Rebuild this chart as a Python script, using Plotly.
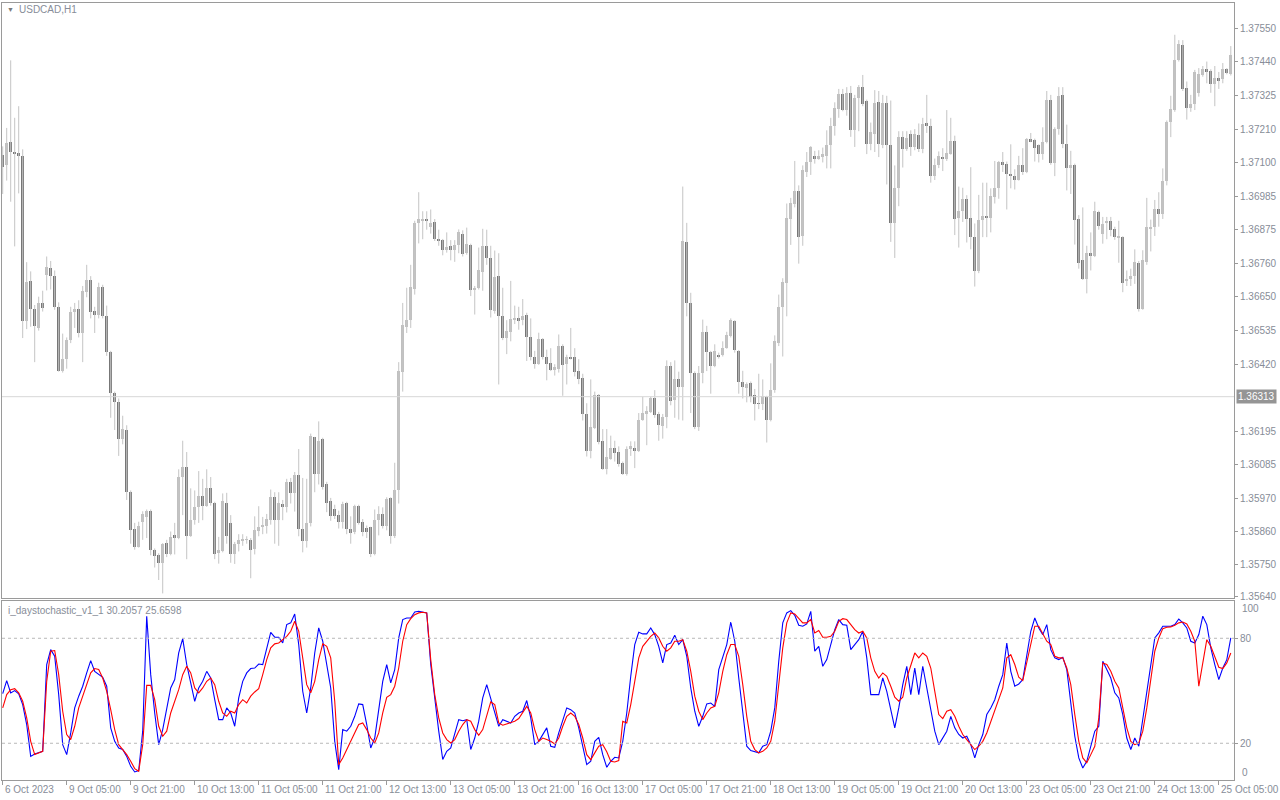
import numpy as np
import plotly.graph_objects as go

# ---------------- data (USDCAD H1), prices in points (price x 100000) ----------------
open_pts = [
137125,137090,137170,137134,137132,137122,136566,136702,136608,136544,136629,136723,136746,136720,136615,136400,136439,136502,136598,136608,
136527,136666,136705,136602,136587,136683,136585,136463,136326,136294,136172,136201,135992,135870,135808,135893,135909,135928,135797,135780,
135755,135821,135783,135847,135838,136043,136078,135844,135900,135941,135979,135947,136005,135956,135789,135793,135957,135887,135784,135819,
135830,135832,135832,135800,135861,135874,135879,135898,135977,135898,135954,135941,136028,135990,136049,135870,135828,135887,136176,136052,
136172,136018,135963,135934,135915,135892,135957,135870,135857,135947,135892,135873,135874,135784,135898,135919,135877,135973,135844,136001,
136397,136548,136570,136676,136895,136906,136907,136884,136900,136843,136838,136807,136820,136805,136823,136861,136795,136824,136673,136679,
136733,136820,136779,136602,136718,136585,136510,136531,136569,136576,136570,136589,136512,136448,136422,136506,136448,136425,136402,136407,
136484,136422,136448,136445,136399,136377,136255,136129,136207,136319,136163,136069,136105,136142,136127,136091,136052,136140,136142,136131,
136234,136255,136262,136307,136255,136214,136245,136416,136303,136371,136345,136833,136628,136394,136210,136394,136531,136463,136416,136454,
136452,136476,136516,136566,136467,136364,136341,136358,136320,136290,136287,136313,136233,136335,136495,136615,136696,136910,136962,137004,
136852,137068,137100,137122,137113,137119,137122,137157,137221,137280,137330,137276,137334,137209,137315,137353,137306,137161,137196,137303,
137157,137299,137158,136897,137013,137186,137145,137195,137152,137193,137144,137231,137222,137055,137092,137118,137113,137128,137172,136913,
136936,136978,136914,136850,136734,136906,136920,136914,136985,137013,137103,137096,137062,137054,137042,137090,137067,137180,137176,137157,
137128,137170,137311,137099,137212,137327,137161,137080,137092,136910,136772,136709,136797,136784,136932,136861,136895,136904,136876,136849,
136850,136701,136709,136718,136762,136606,136766,136878,136882,136943,136926,137036,137236,137276,137443,137494,137351,137282,137298,137334,
137394,137413,137407,137362,137385,137379,137413,137398]
high_pts = [
137154,137216,137443,137250,137289,137144,136765,136734,136621,136649,136669,136784,136769,136737,136630,136525,136512,136615,136628,136637,
136685,136756,136718,136615,136696,136689,136619,136467,136330,136307,136249,136217,135998,135889,135893,135928,135934,135934,135803,135787,
135821,135832,135860,135889,136069,136165,136127,136005,135998,136063,136037,136069,136043,135960,135842,135988,135990,135915,135825,135851,
135851,135844,135838,135911,135945,135909,135919,136001,135992,135992,135966,136037,136040,136060,136137,136040,136037,136189,136178,136230,
136175,136027,135973,135950,135930,135960,135960,135911,135950,135950,135902,135880,135876,135934,135945,135941,135975,135975,136091,136429,
136628,136679,136756,136904,137000,136936,136936,136942,136910,136874,136843,136865,136839,136839,136875,136872,136881,136827,136685,136814,
136877,136874,136820,136804,136795,136679,136570,136702,136619,136615,136641,136595,136576,136467,136528,136510,136471,136476,136422,136522,
136489,136454,136544,136476,136439,136390,136291,136371,136330,136322,136204,136204,136182,136165,136146,136095,136146,136163,136163,136258,
136313,136281,136313,136335,136262,136255,136435,136429,136435,136397,137019,136897,136662,136398,136416,136572,136551,136467,136489,136461,
136499,136531,136576,136570,136470,136400,136361,136364,136339,136390,136371,136316,136425,136519,136656,136711,136962,136981,137105,137023,
137090,137135,137155,137139,137141,137150,137208,137250,137302,137347,137347,137353,137357,137327,137360,137394,137311,137234,137343,137340,
137327,137324,137308,137090,137205,137205,137205,137208,137212,137231,137250,137327,137247,137113,137137,137148,137276,137250,137190,137019,
137015,136990,137084,136895,136991,137032,137032,137013,137105,137105,137135,137103,137161,137077,137122,137148,137182,137199,137180,137161,
137218,137340,137327,137218,137353,137353,137227,137139,137096,136923,136949,136820,136865,136968,136938,136917,136917,136917,136884,136904,
136852,136737,136743,136808,136769,136805,136981,136908,136974,137000,137080,137241,137324,137529,137511,137511,137372,137327,137411,137417,
137424,137439,137413,137424,137404,137434,137417,137491]
low_pts = [
136994,137039,136968,136818,136996,136510,136540,136548,136429,136535,136599,136670,136673,136605,136397,136394,136407,136493,136544,136512,
136429,136647,136576,136527,136576,136576,136450,136242,136201,136114,136153,135966,135819,135799,135806,135832,135838,135780,135739,135697,
135652,135774,135780,135783,135834,135915,135767,135842,135883,135889,135898,135943,135947,135767,135752,135790,135819,135755,135751,135793,
135812,135819,135703,135783,135844,135851,135853,135883,135819,135812,135898,135924,135954,135927,135844,135790,135806,135877,135992,136018,
136001,135925,135896,135902,135870,135870,135851,135819,135851,135883,135844,135838,135774,135780,135847,135870,135864,135819,135838,135954,
136330,136527,136544,136656,136828,136842,136874,136861,136836,136820,136788,136797,136771,136766,136795,136784,136790,136651,136589,136673,
136669,136756,136579,136592,136354,136503,136456,136499,136557,136538,136553,136433,136435,136407,136420,136438,136368,136399,136384,136394,
136316,136354,136438,136381,136355,136233,136112,136106,136204,136153,136067,136052,136101,136095,136078,136050,136048,136114,136073,136127,
136232,136150,136258,136242,136165,136172,136207,136284,136242,136236,136233,136583,136258,136204,136198,136358,136399,136323,136412,136441,
136448,136474,136512,136461,136323,136307,136294,136294,136233,136271,136268,136159,136230,136326,136483,136448,136583,136823,136949,136760,
136820,137051,137058,137096,137109,137100,137080,137080,137190,137250,137272,137257,137186,137152,137205,137289,137128,137141,137135,137118,
137148,137026,136833,136779,136953,137083,137139,137122,137141,137135,137131,137199,137032,137041,137081,137071,137105,137126,136856,136814,
136900,136831,136808,136683,136728,136849,136849,136865,136962,136978,137068,136942,137013,137009,137039,137058,137064,137168,137103,137100,
137109,137164,137092,137054,137193,137148,137006,136994,136824,136743,136705,136660,136737,136782,136874,136827,136842,136852,136840,136763,
136664,136685,136685,136692,136599,136605,136756,136801,136853,136884,136910,137023,137185,137270,137439,137340,137244,137270,137276,137321,
137388,137366,137334,137289,137347,137366,137396,137392]
close_pts = [
137086,137164,137134,137130,137123,136566,136698,136606,136549,136629,136610,136750,136720,136615,136399,136439,136502,136598,136608,136527,
136669,136705,136599,136587,136683,136583,136463,136326,136294,136172,136204,135992,135864,135808,135877,135919,135928,135797,135778,135755,
135819,135783,135842,135838,136043,136078,135844,135900,135941,135979,135947,136007,135956,135784,135797,135964,135844,135784,135819,135832,
135833,135833,135797,135864,135874,135883,135902,135977,135898,135957,135941,136028,135990,136049,135870,135828,135887,136181,136052,136165,
136011,135956,135913,135913,135892,135954,135868,135855,135947,135889,135860,135857,135784,135900,135919,135877,135970,135844,136001,136399,
136553,136570,136682,136897,136910,136907,136905,136897,136843,136838,136805,136816,136805,136823,136865,136791,136827,136673,136679,136739,
136820,136778,136605,136714,136583,136510,136535,136574,136579,136566,136585,136515,136445,136422,136506,136445,136422,136402,136412,136484,
136420,136448,136441,136397,136371,136255,136129,136210,136317,136162,136069,136110,136142,136124,136088,136052,136137,136146,136131,136236,
136258,136264,136307,136251,136217,136246,136416,136300,136373,136345,136836,136628,136393,136210,136394,136531,136463,136416,136465,136448,
136476,136519,136570,136471,136362,136345,136354,136313,136287,136289,136316,136233,136336,136499,136615,136698,136913,136964,137003,136850,
137073,137103,137152,137113,137123,137128,137157,137223,137282,137330,137276,137334,137209,137317,137353,137298,137161,137202,137299,137161,
137299,137157,136897,137013,137186,137145,137182,137152,137195,137144,137229,137221,137055,137092,137122,137113,137132,137172,136910,136936,
136978,136910,136849,136734,136908,136919,136914,136987,137013,137103,137090,137062,137054,137042,137090,137067,137180,137170,137150,137128,
137170,137311,137099,137212,137324,137161,137080,137092,136908,136763,136707,136797,136786,136936,136887,136893,136904,136874,136849,136852,
136696,136709,136720,136766,136606,136773,136882,136884,136943,136926,137039,137236,137280,137443,137498,137347,137282,137298,137404,137398,
137413,137404,137363,137385,137375,137413,137401,137462]

# stochastic main (blue) and signal (red) lines
stoch_main = [
48.4,55.8,48.8,50.1,48.2,42.1,30.7,12.5,13.9,14.5,15.4,65.0,73.5,69.7,47.8,19.2,13.5,25.9,40.2,46.9,
52.6,60.2,67.2,61.1,59.2,57.7,52.6,28.8,21.1,17.3,16.4,12.5,6.8,3.6,4.4,26.9,92.6,59.2,37.3,19.2,
27.8,40.2,51.6,56.4,71.6,79.8,65.0,54.5,44.0,51.6,55.4,61.1,57.3,44.9,33.5,33.5,40.2,37.3,29.7,45.9,
55.4,60.2,62.7,63.0,65.3,65.0,73.5,83.4,80.6,80.6,77.3,87.8,88.8,93.9,76.4,49.7,37.3,51.6,71.6,85.9,
78.3,64.0,51.6,21.1,4.9,27.8,26.9,29.7,35.4,42.5,42.1,30.7,17.3,23.0,38.3,55.4,65.0,54.5,62.1,80.2,
90.7,91.6,91.6,95.0,95.4,95.0,94.5,65.0,44.0,26.9,10.7,15.4,17.3,25.0,33.5,32.9,33.5,16.4,23.0,32.6,
45.9,53.5,45.9,37.3,29.7,33.5,32.6,31.6,35.4,37.3,38.3,44.4,34.5,19.2,21.1,25.0,28.8,18.3,17.7,25.9,
33.5,40.2,39.2,37.3,28.8,17.3,7.8,9.7,21.1,23.4,13.5,6.3,9.7,12.0,11.6,21.1,37.3,58.3,76.4,83.4,
82.5,82.5,85.9,82.1,75.4,65.9,76.4,77.3,81.7,76.4,79.2,69.7,51.6,38.3,29.7,35.4,42.5,43.0,41.1,62.1,
68.8,76.4,89.3,78.3,57.3,36.4,18.3,15.8,15.0,14.5,18.3,19.2,26.9,40.2,66.9,88.8,94.5,95.8,93.1,87.4,
86.9,88.2,95.4,72.6,75.4,64.0,67.8,76.4,84.9,90.7,87.8,87.4,73.5,76.4,79.2,84.0,68.8,47.8,47.8,47.8,
57.3,49.7,39.2,28.8,40.2,53.5,64.0,47.8,63.0,47.8,64.0,51.6,40.2,26.9,19.2,23.0,26.9,35.4,28.8,25.0,
23.0,24.0,19.2,11.6,19.2,25.0,36.4,40.2,44.9,52.6,59.2,77.3,61.1,52.6,53.9,56.4,71.6,84.0,91.6,85.9,
82.1,87.8,73.5,68.8,67.8,69.1,62.1,44.0,24.0,11.6,5.9,9.7,19.2,26.9,29.7,66.9,62.1,57.3,48.8,45.9,
36.4,23.0,16.4,23.0,18.3,33.5,47.8,65.0,80.2,83.1,86.9,86.9,86.9,87.8,91.0,88.8,85.9,78.3,77.3,82.1,
92.6,87.8,74.5,65.0,56.4,63.0,67.8,80.2]
stoch_signal = [
40.2,47.8,50.6,51.2,48.8,44.0,34.5,21.1,13.5,14.5,15.4,55.4,72.6,73.0,59.2,38.3,25.0,22.1,29.7,40.2,
46.9,53.5,60.2,62.7,62.1,57.3,49.7,39.2,27.8,19.2,16.4,13.5,9.7,5.5,4.0,19.2,53.1,53.1,44.9,29.7,
24.0,26.9,37.3,44.0,50.6,59.2,64.0,60.2,51.6,48.8,51.6,55.4,57.3,53.5,44.0,37.3,35.4,38.3,37.3,42.1,
44.9,43.0,46.9,49.3,51.2,59.2,67.8,74.5,76.8,77.3,79.2,81.1,84.0,89.7,84.0,67.8,53.5,48.8,55.4,67.8,
76.8,75.4,68.8,44.0,7.8,11.6,16.4,21.1,25.9,30.7,31.6,27.8,23.0,20.2,25.9,37.3,46.3,47.8,52.6,63.0,
78.3,87.8,91.2,93.5,94.5,94.9,94.5,67.8,47.8,34.5,25.9,22.1,20.2,22.1,26.9,30.7,33.5,32.6,27.8,24.5,
27.8,36.4,43.6,42.1,31.6,30.3,31.0,32.0,32.6,34.1,37.3,41.1,37.3,27.8,21.1,23.0,22.1,21.1,19.6,23.0,
29.7,35.4,37.3,35.4,30.7,23.0,13.5,10.6,14.5,18.3,19.2,15.1,9.7,9.3,10.1,32.6,31.6,42.1,55.4,68.8,
75.4,78.3,81.1,83.0,80.2,75.4,72.6,74.5,78.3,78.3,79.2,72.6,61.1,46.9,38.3,33.5,37.3,40.2,41.1,48.8,
61.1,70.6,76.4,76.4,69.7,53.5,35.4,21.1,16.4,14.5,15.4,17.3,21.1,32.6,53.5,74.5,88.8,94.5,93.9,91.6,
88.8,88.8,90.7,83.0,84.4,80.6,80.6,81.1,84.0,89.7,91.2,90.7,87.8,84.9,83.0,84.0,80.2,68.8,61.1,57.3,
60.2,58.3,52.6,46.3,44.0,46.3,57.3,65.0,71.6,68.8,71.6,69.7,63.0,49.7,36.4,34.1,38.3,39.2,35.4,29.7,
25.0,22.1,19.2,16.4,18.3,21.1,25.9,32.6,39.2,45.9,51.6,68.8,70.6,65.0,57.7,55.8,65.9,76.4,86.9,86.9,
83.0,78.3,76.4,69.7,68.8,68.8,63.0,53.5,36.4,21.1,11.6,8.8,13.5,18.3,34.5,65.9,65.0,61.1,55.4,51.6,
40.2,28.8,21.1,19.2,20.2,26.9,40.2,55.4,72.6,80.2,85.5,86.3,86.5,87.4,88.8,89.3,88.2,84.0,78.3,52.6,
66.9,79.2,75.4,68.8,63.4,62.7,65.9,71.6]

time_labels = ["6 Oct 2023", "9 Oct 05:00", "9 Oct 21:00", "10 Oct 13:00", "11 Oct 05:00",
               "11 Oct 21:00", "12 Oct 13:00", "13 Oct 05:00", "13 Oct 21:00", "16 Oct 13:00",
               "17 Oct 05:00", "17 Oct 21:00", "18 Oct 13:00", "19 Oct 05:00", "19 Oct 21:00",
               "20 Oct 13:00", "23 Oct 05:00", "23 Oct 21:00", "24 Oct 13:00", "25 Oct 05:00"]
time_label_bars = list(range(0, 305, 16))

price_ticks = [1.37550, 1.37440, 1.37325, 1.37210, 1.37100, 1.36985, 1.36875, 1.36760, 1.36650,
               1.36535, 1.36420, 1.36195, 1.36085, 1.35970, 1.35860, 1.35750, 1.35640]
current_price = 1.36313
stoch_levels = [20, 80]
symbol_title = "USDCAD,H1"
indicator_title = "i_daystochastic_v1_1 30.2057 25.6598"

# ---------------- build ----------------
o = np.array(open_pts) / 1e5
h = np.array(high_pts) / 1e5
l = np.array(low_pts) / 1e5
c = np.array(close_pts) / 1e5
n = len(o)
idx = np.arange(n)

BULL = "#c0c0c0"
BEAR = "#777777"
WICK = "#c4c4c4"
AXIS = "#9a9a9a"
TXT = "#878d98"
FONT = "Liberation Sans"

W, H = 1280, 800
def px_x(p): return p / W
def px_y(p): return 1 - p / H

xr = [-0.175, 307.8]

fig = go.Figure()

wx, wy = [], []
for i in range(n):
    wx += [i, i, None]
    wy += [l[i], h[i], None]
fig.add_trace(go.Scatter(x=wx, y=wy, mode="lines", line=dict(color=WICK, width=1),
                         hoverinfo="skip", xaxis="x", yaxis="y"))

base = np.minimum(o, c)
height = np.maximum(np.abs(c - o), 0.000025)
colors = [BULL if c[i] >= o[i] else BEAR for i in range(n)]
fig.add_trace(go.Bar(x=idx, y=height, base=base, width=0.75, marker=dict(color=colors, line=dict(width=0)),
                     xaxis="x", yaxis="y", hoverinfo="skip"))

fig.add_trace(go.Scatter(x=idx, y=stoch_main, mode="lines", line=dict(color="#0000ff", width=1.1),
                         xaxis="x2", yaxis="y2", hoverinfo="skip"))
fig.add_trace(go.Scatter(x=idx, y=stoch_signal, mode="lines", line=dict(color="#ff0000", width=1.1),
                         xaxis="x2", yaxis="y2", hoverinfo="skip"))

xdom = [px_x(2), px_x(1234)]
fig.update_layout(
    width=W, height=H, margin=dict(l=0, r=0, t=0, b=0, pad=0),
    paper_bgcolor="white", plot_bgcolor="white", showlegend=False,
    barmode="overlay", bargap=0, hovermode=False,
    font=dict(family=FONT, size=10, color=TXT),
    xaxis=dict(domain=xdom, range=xr, anchor="y", showticklabels=False, showgrid=False, zeroline=False,
               showline=True, mirror=True, linecolor=AXIS, linewidth=1, ticks="", automargin=False),
    yaxis=dict(domain=[px_y(598), px_y(3)], range=[1.356366, 1.376357], side="right", anchor="x",
               tickvals=price_ticks, ticktext=[f"{v:.5f}" for v in price_ticks],
               ticks="outside", ticklen=3, tickcolor=AXIS, showgrid=False, zeroline=False,
               showline=True, mirror=True, linecolor=AXIS, linewidth=1, automargin=False,
               tickfont=dict(family=FONT, size=10, color=TXT)),
    xaxis2=dict(domain=xdom, range=xr, anchor="y2", showticklabels=False, showgrid=False, zeroline=False,
                tickvals=time_label_bars, ticks="outside", ticklen=4, tickcolor=AXIS, automargin=False,
                showline=True, mirror=True, linecolor=AXIS, linewidth=1),
    yaxis2=dict(domain=[px_y(780), px_y(601)], range=[-1.0, 101.3], side="right", anchor="x2",
                tickvals=stoch_levels, ticktext=[str(v) for v in stoch_levels],
                ticks="outside", ticklen=3, tickcolor=AXIS, showgrid=False, zeroline=False,
                showline=True, mirror=True, linecolor=AXIS, linewidth=1, automargin=False,
                tickfont=dict(family=FONT, size=10, color=TXT)),
)

shapes = []
shapes.append(dict(type="line", xref="paper", yref="y", x0=xdom[0], x1=xdom[1],
                   y0=current_price, y1=current_price, line=dict(color="#d8d8d8", width=1)))
for lv in stoch_levels:
    shapes.append(dict(type="line", xref="paper", yref="y2", x0=xdom[0], x1=xdom[1],
                       y0=lv, y1=lv, line=dict(color="#b8b8b8", width=1, dash="3px,3px")))
fig.update_layout(shapes=shapes)

ann = []
ann.append(dict(text="▼", x=px_x(5), y=px_y(10), xref="paper", yref="paper", xanchor="left",
                yanchor="middle", showarrow=False, font=dict(size=7, color="#7a7a7a", family=FONT)))
ann.append(dict(text=symbol_title, x=px_x(17), y=px_y(10), xref="paper", yref="paper", xanchor="left",
                yanchor="middle", showarrow=False, font=dict(size=10, color=TXT, family=FONT)))
ann.append(dict(text=indicator_title, x=px_x(6), y=px_y(610), xref="paper", yref="paper", xanchor="left",
                yanchor="middle", showarrow=False, font=dict(size=10, color=TXT, family=FONT)))
ann.append(dict(text=f"{current_price:.5f}", x=px_x(1236), y=current_price, xref="paper", yref="y",
                xanchor="left", yanchor="middle", showarrow=False, bgcolor="#959595",
                borderpad=1, font=dict(size=10, color="white", family=FONT)))
ann.append(dict(text="100", x=px_x(1240), y=px_y(608), xref="paper", yref="paper", xanchor="left",
                yanchor="middle", showarrow=False, font=dict(size=10, color=TXT, family=FONT)))
ann.append(dict(text="0", x=px_x(1240), y=px_y(772), xref="paper", yref="paper", xanchor="left",
                yanchor="middle", showarrow=False, font=dict(size=10, color=TXT, family=FONT)))
for b, t in zip(time_label_bars, time_labels):
    ann.append(dict(text=t, x=b, y=px_y(789), xref="x2", yref="paper", xanchor="left",
                    yanchor="middle", showarrow=False, font=dict(size=10, color=TXT, family=FONT)))
fig.update_layout(annotations=ann)

fig.write_html("out.html", config={"displayModeBar": False},
               post_script="document.body.style.margin='0';document.body.style.overflow='hidden';")
